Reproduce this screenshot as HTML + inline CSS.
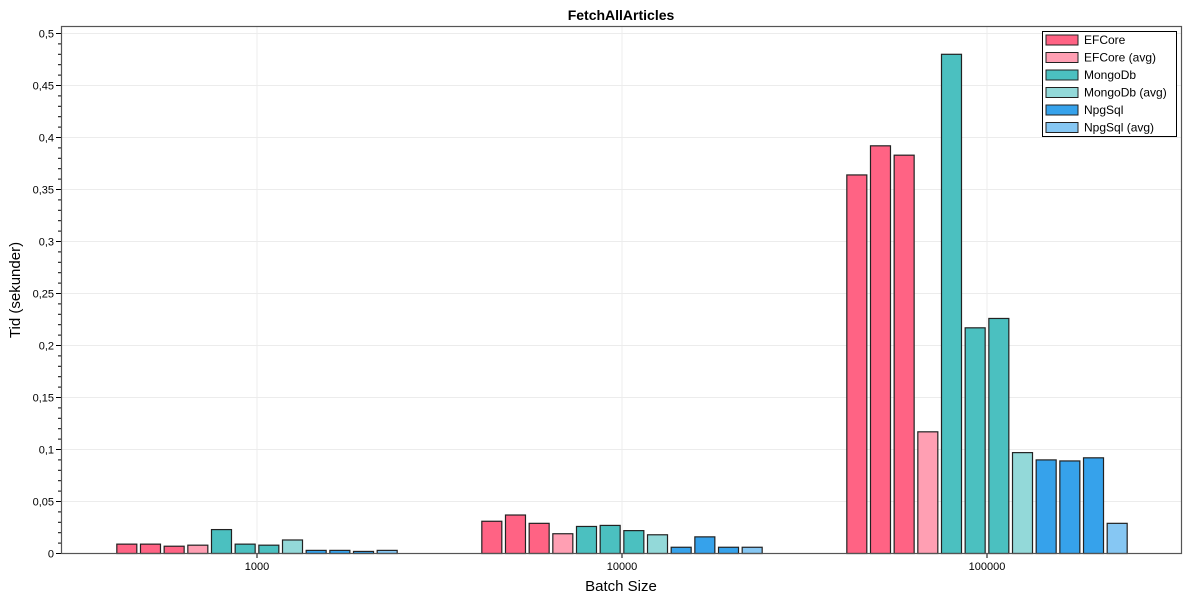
<!DOCTYPE html>
<html><head><meta charset="utf-8"><style>
body{margin:0;background:#fff;}
svg text{font-family:"Liberation Sans",sans-serif;fill:#000;}
</style></head><body>
<svg id="chart" width="1200" height="600">
<text x="621" y="20" font-size="14" font-weight="bold" text-anchor="middle">FetchAllArticles</text>
<text transform="translate(20,290) rotate(-90)" font-size="15" text-anchor="middle">Tid (sekunder)</text>
<text x="621" y="591" font-size="15" text-anchor="middle">Batch Size</text>
<g id="grid"></g><g id="bars"></g><g id="axes"></g>
<rect x="61.5" y="26.5" width="1120" height="527" fill="none" stroke="#555" stroke-width="1.2"/>
<g id="legend"></g>
</svg>
<script>
const categories=["1000","10000","100000"];
const seriesNames=["EFCore","EFCore","EFCore","EFCore (avg)","MongoDb","MongoDb","MongoDb","MongoDb (avg)","NpgSql","NpgSql","NpgSql","NpgSql (avg)"];
const values1000=[0.009,0.009,0.007,0.008,0.023,0.009,0.008,0.013,0.003,0.003,0.002,0.003];
const values10000=[0.031,0.037,0.029,0.019,0.026,0.027,0.022,0.018,0.006,0.016,0.006,0.006];
const values100000=[0.364,0.392,0.383,0.117,0.480,0.217,0.226,0.097,0.090,0.089,0.092,0.029];
const yTicks=[0,0.05,0.1,0.15,0.2,0.25,0.3,0.35,0.4,0.45,0.5];
const yTickLabels=["0","0,05","0,1","0,15","0,2","0,25","0,3","0,35","0,4","0,45","0,5"];
const legendNames=["EFCore","EFCore (avg)","MongoDb","MongoDb (avg)","NpgSql","NpgSql (avg)"];
const allValues=[values1000,values10000,values100000];
const colors={"EFCore":"#ff6384","EFCore (avg)":"#ff9fb3","MongoDb":"#4bc0c0","MongoDb (avg)":"#93d9d9","NpgSql":"#36a2eb","NpgSql (avg)":"#86c7f3"};
const NS="http://www.w3.org/2000/svg";
const y=v=>553.5-v*1040;
const xc=i=>257+365*i;
function mk(t,a,p){const e=document.createElementNS(NS,t);for(const k in a)e.setAttribute(k,a[k]);p.appendChild(e);return e;}
const grid=document.getElementById('grid'),axes=document.getElementById('axes'),bars=document.getElementById('bars'),leg=document.getElementById('legend');
yTicks.forEach((t,i)=>{
 if(t>0){const g=mk('line',{x1:62,x2:1181,y1:y(t),y2:y(t),stroke:'#ececec'},grid);
 
 }
 const l=mk('line',{x1:56,x2:61,y1:y(t),y2:y(t),stroke:'#000'},axes);
 
 
 const tx=mk('text',{x:54,y:y(t)+4,'font-size':11,'text-anchor':'end'},axes);tx.textContent=yTickLabels[i];
 
 
});
for(let v=0.01;v<0.5;v+=0.01){if(Math.abs(v*20-Math.round(v*20))<1e-6)continue;
 const m=mk('line',{x1:58,x2:61,y1:y(v),y2:y(v),stroke:'#000'},axes);
 
 }
categories.forEach((c,i)=>{
 const g=mk('line',{x1:xc(i),x2:xc(i),y1:27,y2:553,stroke:'#ececec'},grid);
 
 
 const t=mk('line',{x1:xc(i),x2:xc(i),y1:553,y2:558,stroke:'#000'},axes);
 
 
 const tx=mk('text',{x:xc(i),y:570,'font-size':11,'text-anchor':'middle'},axes);tx.textContent=c;
 
 
 allValues[i].forEach((v,j)=>{
  const cx=xc(i)+(j-5.5)*23.67;
  const r=mk('rect',{x:cx-10,y:y(v),width:20,height:553.5-y(v),fill:colors[seriesNames[j]],stroke:'#222','stroke-width':1.2},bars);
  
  
 });
});
const lb=mk('rect',{x:1042.5,y:31.5,width:134,height:105,fill:'#fff',stroke:'#000'},leg);


legendNames.forEach((n,i)=>{
 const cy=40+i*17.5;
 const s=mk('rect',{x:1046,y:cy-5,width:32,height:10,fill:colors[n],stroke:'#222'},leg);
 
 
 const t=mk('text',{x:1084,y:cy+4,'font-size':12},leg);t.textContent=n;
 
 
});
</script>
</body></html>
